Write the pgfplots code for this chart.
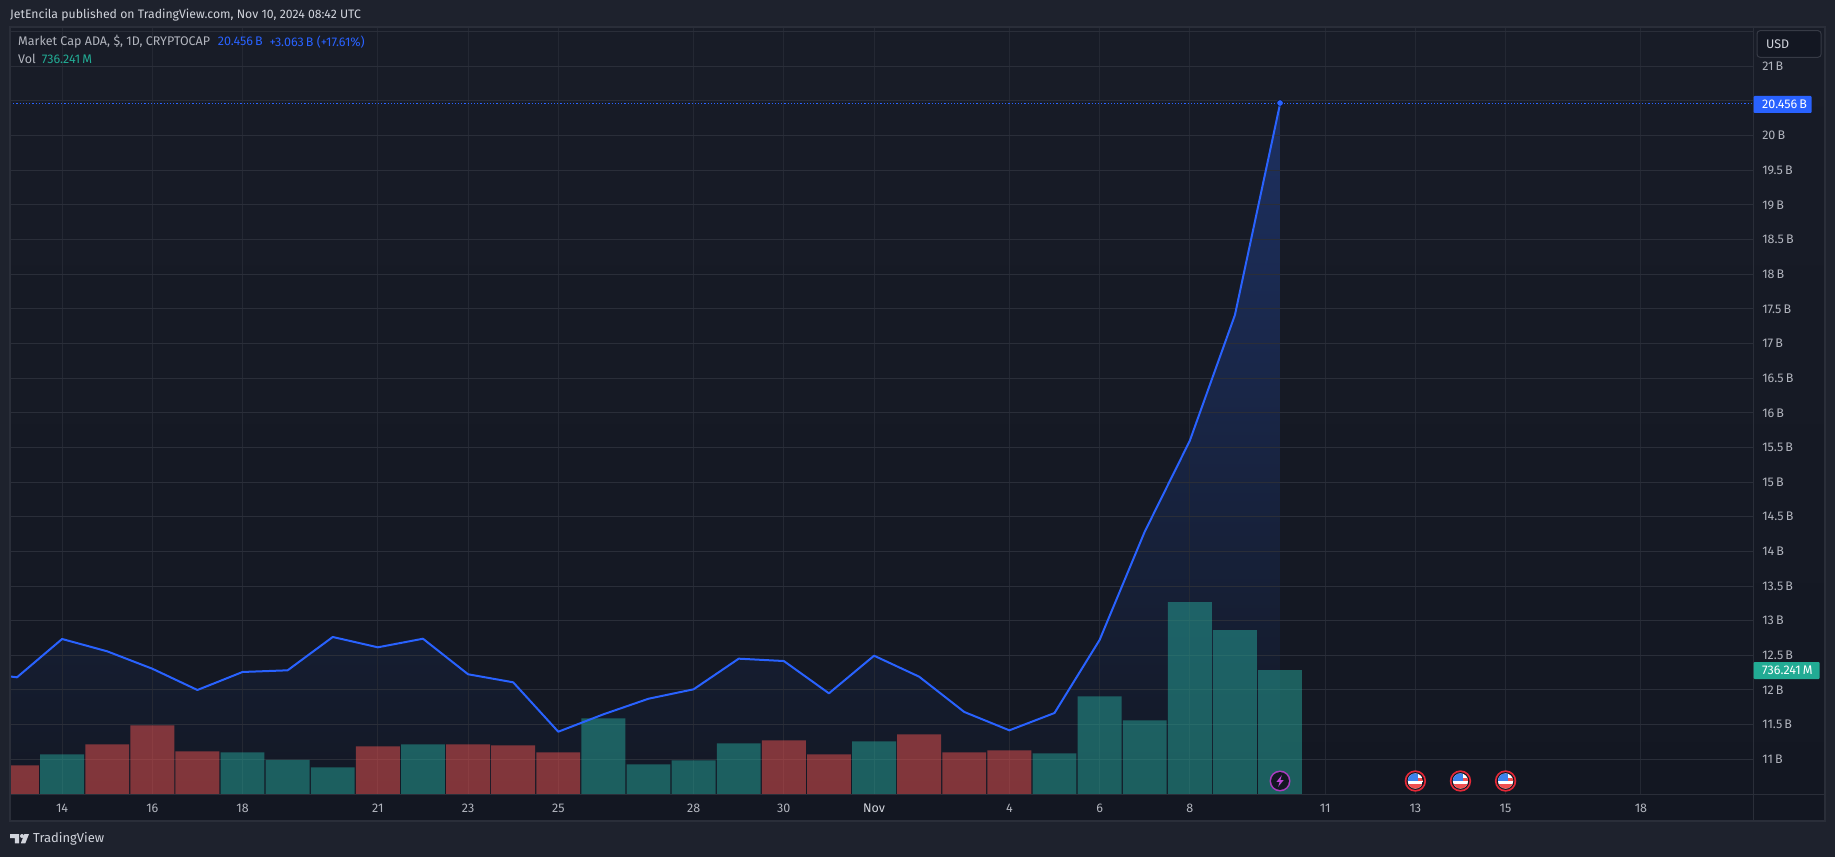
\documentclass[border=0pt]{standalone}
\usepackage{pgfplots}
\usepackage{fontspec}
\setmainfont{Fira Sans}
\pgfplotsset{compat=1.18}
\definecolor{page}{HTML}{1E222D}
\definecolor{frameC}{HTML}{2A2E39}
\definecolor{bgtop}{HTML}{181C27}
\definecolor{bgbot}{HTML}{131722}
\definecolor{gridH}{HTML}{2A2E39}
\definecolor{gridV}{HTML}{242833}
\definecolor{tvblue}{HTML}{2962FF}
\definecolor{tvteal}{HTML}{26A69A}
\definecolor{tvred}{HTML}{EF5350}
\definecolor{txt}{HTML}{B2B5BE}
\definecolor{txtb}{HTML}{D1D4DC}
\definecolor{tag}{HTML}{22AB94}
\definecolor{tealtxt}{HTML}{22AB94}
\definecolor{areatop}{HTML}{1D3060}
\definecolor{areabot}{HTML}{131824}
\definecolor{flagring}{HTML}{E62837}
\definecolor{flagblue}{HTML}{3C82EB}
\definecolor{flagred}{HTML}{F05050}
\definecolor{boltring}{HTML}{AA3CBE}
\definecolor{boltfill}{HTML}{BE46D7}
\definecolor{usdline}{HTML}{363A45}
\newcommand\mkdisc[2]{\pgfsetfillcolor{#1}\pgfpathcircle{\pgfpointorigin}{#2}\pgfusepath{fill}}
\newcommand\mkbox[5]{\pgfsetfillcolor{#1}\pgfpathrectanglecorners{\pgfpoint{#2}{#3}}{\pgfpoint{#4}{#5}}\pgfusepath{fill}}
\pgfdeclareplotmark{usflag}{%
  \mkdisc{flagring}{10.7pt}%
  \mkdisc{bgbot}{8.9pt}%
  \begin{pgfscope}
    \pgfpathcircle{\pgfpointorigin}{7.6pt}\pgfusepath{clip}%
    \mkbox{white}{-8pt}{-8pt}{8pt}{8pt}%
    \mkbox{flagblue}{-8pt}{-0.5pt}{2.6pt}{8pt}%
    \mkbox{flagred}{2.6pt}{-0.5pt}{8pt}{3.2pt}%
    \mkbox{flagred}{-8pt}{-8pt}{8pt}{-3.2pt}%
  \end{pgfscope}
}
\pgfdeclareplotmark{bolt}{%
  \mkdisc{boltring}{10.5pt}%
  \mkdisc{bgbot}{8.9pt}%
  \pgfsetfillcolor{boltfill}%
  \pgfpathmoveto{\pgfpoint{1.8pt}{5.8pt}}%
  \pgfpathlineto{\pgfpoint{-3.6pt}{-0.9pt}}%
  \pgfpathlineto{\pgfpoint{-0.4pt}{-0.9pt}}%
  \pgfpathlineto{\pgfpoint{-1.8pt}{-5.8pt}}%
  \pgfpathlineto{\pgfpoint{3.6pt}{0.9pt}}%
  \pgfpathlineto{\pgfpoint{0.4pt}{0.9pt}}%
  \pgfpathclose\pgfusepath{fill}%
}
\pgfplotsset{geom/.style={
  at={(10pt,62.7pt)}, anchor=south west, scale only axis,
  width=1743.6pt, height=767.3pt, xmin=12.845, xmax=51.5}}
\begin{document}
\begin{tikzpicture}
\fill[page] (0pt,0pt) rectangle (1835pt,857pt);
\begin{scope}[x=1pt,y=-1pt,shift={(0pt,857pt)}]
  \shade[top color=bgtop,bottom color=bgbot] (10,27) rectangle (1825,821);
\end{scope}
% price pane: grid, area, tick labels
\begin{axis}[geom, ymin=10.4949, ymax=21.567, axis on top,
  axis line style={draw=none}, major tick length=0pt,
  xtick={14,16,18,21,23,25,28,30,32,35,37,39,42,44,46,49},
  xticklabels={14,16,18,21,23,25,28,30,{\color{txtb}Nov},4,6,8,11,13,15,18},
  ytick={11,11.5,12,12.5,13,13.5,14,14.5,15,15.5,16,16.5,17,17.5,18,18.5,19,19.5,20,20.5,21,21.5},
  yticklabels={11\,B,11.5\,B,12\,B,12.5\,B,13\,B,13.5\,B,14\,B,14.5\,B,15\,B,15.5\,B,16\,B,16.5\,B,17\,B,17.5\,B,18\,B,18.5\,B,19\,B,19.5\,B,20\,B,,21\,B,},
  yticklabel pos=right,
  grid=major,
  x grid style={gridV,line width=1pt},
  y grid style={gridH,line width=1pt},
  xticklabel style={anchor=center,yshift=-13.7pt,inner sep=0pt,text=txt,font=\fontsize{12.5}{14}\selectfont},
  yticklabel style={anchor=west,xshift=8.4pt,inner sep=0pt,text=txt,font=\fontsize{12.5}{14}\selectfont},
]
\addplot[draw=none, top color=areatop, bottom color=areabot, forget plot]
 coordinates {(12,10.4949)(12,12.265)(13,12.183)(14,12.736)(15,12.558)(16,12.307)(17,12.0)(18,12.26)(19,12.284)(20,12.765)(21,12.616)(22,12.74)(23,12.227)(24,12.111)(25,11.398)(26,11.649)(27,11.874)(28,12.01)(29,12.452)(30,12.418)(31,11.952)(32,12.495)(33,12.192)(34,11.683)(35,11.418)(36,11.668)(37,12.722)(38,14.284)(39,15.597)(40,17.411)(41,20.456)(41,10.4949)} --cycle;
\end{axis}
% volume bars
\begin{axis}[geom, ymin=0, ymax=4545, hide axis, bar shift=0pt]
\addplot[ybar, bar width=0.973, draw=none, fill=tvred, fill opacity=0.5, forget plot] coordinates {
 (13,171.8)(15,296.0)(16,408.7)(17,254.7)(21,284.3)(23,296.2)(24,290.2)(25,248.8)(30,319.8)(31,236.9)(33,355.4)(34,248.8)(35,260.6)};
\addplot[ybar, bar width=0.973, draw=none, fill=tvteal, fill opacity=0.5, forget plot] coordinates {
 (14,236.9)(18,248.8)(19,203.4)(20,160.0)(22,296.2)(26,450.1)(27,177.7)(28,201.4)(29,302.1)(32,313.9)(36,242.8)(37,580.5)(38,438.3)(39,1139)(40,973)(41,736.241)};
\end{axis}
% price line, last-price marker, events
\begin{axis}[geom, ymin=10.4949, ymax=21.567, hide axis]
\addplot[tvblue, line width=1pt, dash pattern=on 1.2pt off 2pt, forget plot] coordinates {(12.845,20.456)(51.5,20.456)};
\addplot[tvblue, line width=2pt, line join=round, forget plot] coordinates {
 (12,12.265)(13,12.183)(14,12.736)(15,12.558)(16,12.307)(17,12.0)(18,12.26)(19,12.284)(20,12.765)(21,12.616)(22,12.74)(23,12.227)(24,12.111)(25,11.398)(26,11.649)(27,11.874)(28,12.01)(29,12.452)(30,12.418)(31,11.952)(32,12.495)(33,12.192)(34,11.683)(35,11.418)(36,11.668)(37,12.722)(38,14.284)(39,15.597)(40,17.411)(41,20.456)};
\addplot[only marks, mark=*, mark size=3.3pt, mark options={fill=tvblue,draw=none}, forget plot] coordinates {(41,20.47)};
\addplot[only marks, mark=bolt, forget plot] coordinates {(41,10.687)};
\addplot[only marks, mark=usflag, forget plot] coordinates {(44,10.687)(45,10.687)(46,10.687)};
\end{axis}
\begin{scope}[x=1pt,y=-1pt,shift={(0pt,857pt)}]
  % frame and separators
  \draw[frameC,line width=2pt] (10,27) rectangle (1825,821);
  \draw[frameC,line width=1pt] (10,794.3) -- (1825,794.3);
  \draw[frameC,line width=1pt] (1753.6,27) -- (1753.6,821);
  % USD box
  \draw[draw=usdline,fill=bgbot,line width=1pt,rounded corners=3pt] (1757,30.7) rectangle (1821,57.3);
  \node[anchor=west,inner sep=0pt,text=txtb,font=\fontsize{12.5}{14}\selectfont] at (1766,44) {USD};
  % price tags
  \fill[tvblue,rounded corners=1pt] (1753.6,96) rectangle (1811.6,113);
  \node[anchor=west,inner sep=0pt,text=white,font=\fontsize{12.5}{14}\selectfont] at (1762,104.5) {20.456\,B};
  \fill[tag,rounded corners=1pt] (1753.6,662) rectangle (1819.7,679);
  \node[anchor=west,inner sep=0pt,text=white,font=\fontsize{12.5}{14}\selectfont] at (1762,670.5) {736.241\,M};
  % header
  \node[anchor=west,inner sep=0pt,text=txtb,font=\fontsize{12.25}{14}\selectfont] at (10,15) {JetEncila published on TradingView.com, Nov 10, 2024 08:42 UTC};
  % legend
  \node[anchor=west,inner sep=0pt,text=txt,font=\fontsize{12.5}{14}\selectfont] at (18,41.7) {Market Cap ADA, \$, 1D, CRYPTOCAP};
  \node[anchor=west,inner sep=0pt,text=tvblue,font=\fontsize{12.5}{14}\selectfont] at (217.7,41.7) {20.456\,B};
  \node[anchor=west,inner sep=0pt,text=tvblue,font=\fontsize{12.5}{14}\selectfont] at (269.3,41.7) {+3.063\,B (+17.61\%)};
  \node[anchor=west,inner sep=0pt,text=txt,font=\fontsize{12.5}{14}\selectfont] at (18,59) {Vol};
  \node[anchor=west,inner sep=0pt,text=tealtxt,font=\fontsize{12.5}{14}\selectfont] at (41.7,59) {736.241\,M};
  % TradingView logo
  \fill[txtb] (10,834) -- (19.2,834) -- (19.2,843.3) -- (14.8,843.3) -- (14.8,838) -- (10,838) -- cycle;
  \fill[txtb] (22,836) circle (2);
  \fill[txtb] (29,834) -- (25.3,843.3) -- (20.8,843.3) -- (24.4,834) -- cycle;
  \node[anchor=west,inner sep=0pt,text=txtb,font=\fontsize{13}{16}\selectfont] at (33,839) {TradingView};
\end{scope}
\end{tikzpicture}
\end{document}
